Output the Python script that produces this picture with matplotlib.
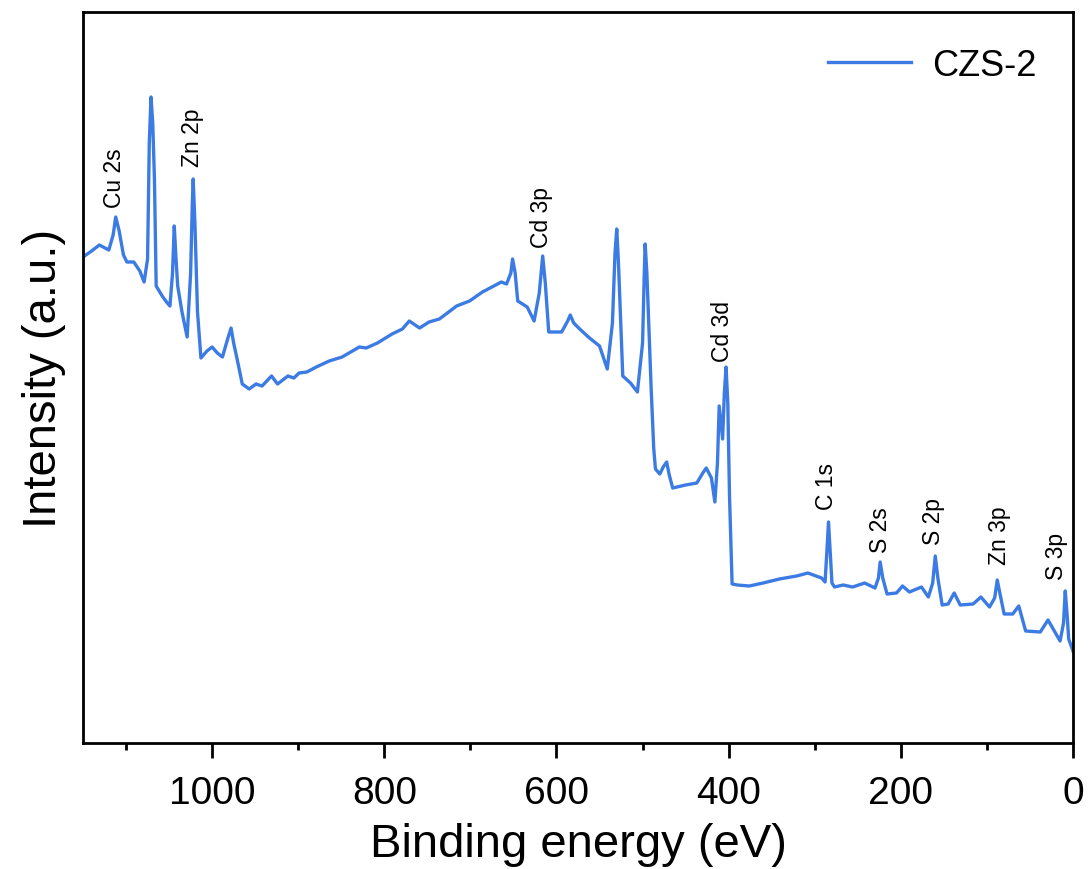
import numpy as np
import matplotlib.pyplot as plt

# XPS survey spectrum, CZS-2 (binding energy in eV, intensity in a.u.)
binding_energy = [1150, 1140, 1131, 1120, 1115, 1112, 1108, 1103, 1099, 1091,
                  1084, 1079, 1075, 1073, 1071, 1069, 1067, 1065, 1058, 1053,
                  1049, 1046, 1044, 1042, 1040, 1035, 1029, 1025, 1023, 1022,
                  1020, 1017, 1013, 1006, 1000, 994, 988, 982, 978, 975,
                  971, 965, 957, 949, 942, 931, 924, 912, 905, 899,
                  890, 879, 864, 849, 829, 821, 808, 791, 779, 771,
                  759, 748, 736, 716, 701, 686, 664, 658, 653, 651,
                  648, 645, 634, 626, 620, 616, 613, 609, 594, 587,
                  584, 580, 573, 563, 550, 541, 535, 532, 530, 528,
                  523, 514, 506, 500, 498, 497, 495, 490, 487, 485,
                  480, 476, 472, 469, 465, 450, 437, 430, 426, 420,
                  416, 413, 411, 409, 407, 405, 403, 401, 399, 396,
                  390, 376, 360, 341, 321, 308, 292, 288, 286, 284,
                  282, 280, 277, 267, 256, 242, 230, 226, 224, 221,
                  216, 205, 198, 190, 176, 168, 163, 160, 157, 152,
                  145, 138, 131, 116, 107, 97, 91, 88, 85, 80,
                  70, 63, 55, 38, 29, 15, 11, 9, 7, 5, 0]
intensity = [486, 492, 498, 493, 508, 526, 512, 488, 481, 481,
             472, 461, 484, 600, 646, 620, 564, 457, 447, 441,
             437, 470, 517, 485, 457, 431, 406, 470, 540, 564,
             520, 431, 385, 392, 396, 390, 386, 404, 415, 400,
             384, 359, 354, 359, 357, 367, 359, 367, 365, 370,
             371, 376, 382, 386, 396, 395, 400, 409, 414, 422,
             415, 421, 424, 437, 442, 451, 461, 459, 470, 484,
             470, 442, 436, 422, 450, 487, 460, 411, 411, 422,
             428, 420, 414, 406, 397, 374, 420, 490, 514, 480,
             367, 360, 351, 400, 470, 499, 470, 354, 294, 274,
             269, 276, 281, 268, 255, 258, 260, 270, 275, 265,
             241, 280, 337, 320, 304, 350, 376, 340, 247, 159,
             158, 157, 160, 164, 167, 170, 165, 161, 190, 221,
             190, 160, 156, 158, 156, 160, 155, 165, 181, 165,
             149, 150, 157, 151, 156, 146, 160, 187, 165, 138,
             139, 150, 138, 139, 146, 136, 145, 163, 150, 129,
             129, 137, 112, 111, 123, 102, 120, 152, 130, 104, 92]

peak_labels = ['Cu 2s', 'Zn 2p', 'Cd 3p', 'Cd 3d', 'C 1s', 'S 2s', 'S 2p', 'Zn 3p', 'S 3p']
label_energy = [1113, 1023, 617, 407, 286, 224, 162, 85, 19]
label_height = [536, 577, 496, 382, 234, 191, 199, 179, 164]

plt.rcParams['font.family'] = ['Liberation Sans', 'DejaVu Sans']

fig = plt.figure(figsize=(10.88, 8.7), dpi=100)
ax = fig.add_axes([83 / 1088, 126 / 870, 990 / 1088, 731 / 870])

ax.plot(binding_energy, intensity, color='#3c7be3', lw=2.4, label='CZS-2',
        solid_joinstyle='round')

# peak annotations
for name, be, h in zip(peak_labels, label_energy, label_height):
    ax.text(be, h, name, rotation=90, ha='center', va='bottom', fontsize=16.5)

ax.set_xlim(1150, 0)
ax.set_ylim(0, 731)
ax.set_xticks([1000, 800, 600, 400, 200, 0])
ax.set_xticks([1100, 900, 700, 500, 300, 100], minor=True)
ax.set_yticks([])
ax.tick_params(axis='x', which='major', length=11, width=2, labelsize=28, pad=12)
ax.tick_params(axis='x', which='minor', length=5, width=2)
for sp in ax.spines.values():
    sp.set_linewidth(2)

ax.set_xlabel('Binding energy (eV)', fontsize=34, labelpad=8)
ax.set_ylabel('Intensity (a.u.)', fontsize=34, labelpad=12)

ax.legend(loc='upper right', frameon=False, fontsize=26, handlelength=2.3,
          handletextpad=0.6, borderaxespad=0.6)

fig.savefig('out.png', dpi=100)
